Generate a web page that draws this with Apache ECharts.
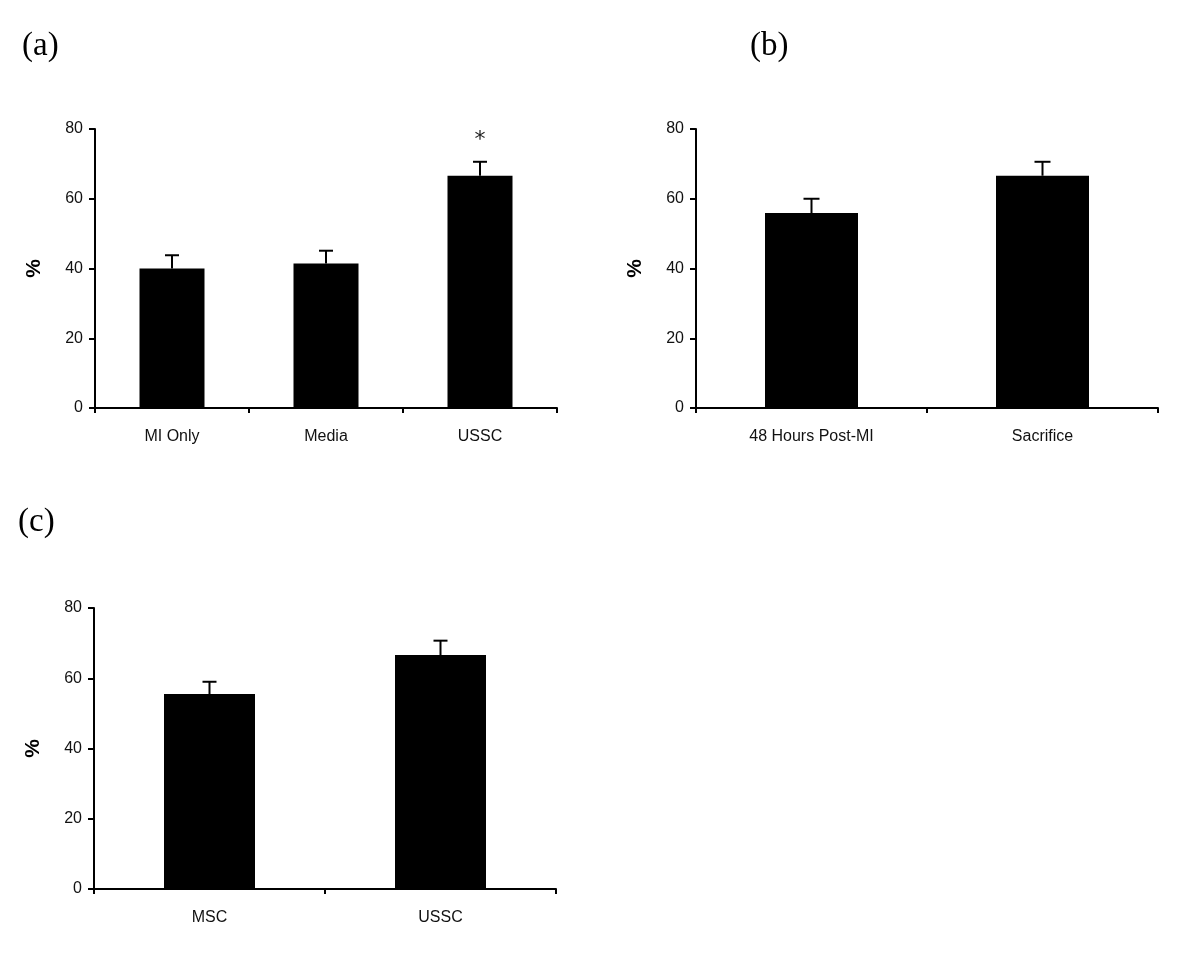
<!DOCTYPE html>
<html>
<head>
<meta charset="utf-8">
<script src="https://cdn.jsdelivr.net/npm/echarts@6/dist/echarts.min.js"></script>
<style>
  html, body { margin: 0; padding: 0; background: #fff; }
  #chart { width: 1200px; height: 963px; }
</style>
</head>
<body>
<div id="chart"></div>
<script>
// ---- data ----
const catsA = ['MI Only', 'Media', 'USSC'];
const meanA = [40.0, 41.4, 66.6];
const errA  = [3.8, 3.7, 4.0];
const sigA  = ['', '', '*'];

const catsB = ['48 Hours Post-MI', 'Sacrifice'];
const meanB = [55.9, 66.6];
const errB  = [4.1, 4.0];
const sigB  = ['', ''];

const catsC = ['MSC', 'USSC'];
const meanC = [55.5, 66.6];
const errC  = [3.5, 4.1];
const sigC  = ['', ''];

const yMin = 0, yMax = 80, yStep = 20;
const yName = '%';
const panelLabels = ['(a)', '(b)', '(c)'];

// ---- build ----
const chart = echarts.init(document.getElementById('chart'), null, { renderer: 'canvas' });

const grids = [
  { left: 95,  top: 129, width: 462, height: 279 },
  { left: 696, top: 129, width: 462, height: 279 },
  { left: 94,  top: 608, width: 462, height: 281 }
];
const panels = [
  { cats: catsA, mean: meanA, err: errA, sig: sigA, barWidth: 65, cap: 7 },
  { cats: catsB, mean: meanB, err: errB, sig: sigB, barWidth: 93, cap: 8 },
  { cats: catsC, mean: meanC, err: errC, sig: sigC, barWidth: 91, cap: 7 }
];

const axisLine = { show: true, lineStyle: { color: '#000', width: 2 } };
const labelFont = { color: '#111', fontSize: 16, fontFamily: 'Liberation Sans, Arial, sans-serif' };

const xAxis = [], yAxis = [], series = [];
panels.forEach((p, i) => {
  xAxis.push({
    type: 'category', gridIndex: i, data: p.cats,
    axisLine: axisLine,
    axisTick: { show: true, length: 5, lineStyle: { color: '#000', width: 2 } },
    axisLabel: Object.assign({ margin: 21 }, labelFont),
    splitLine: { show: false }
  });
  yAxis.push({
    type: 'value', gridIndex: i, min: yMin, max: yMax, interval: yStep,
    name: yName, nameLocation: 'middle', nameGap: 50, nameRotate: 90,
    nameTextStyle: { fontSize: 21, fontWeight: 'bold', color: '#000', fontFamily: 'Liberation Sans, Arial, sans-serif' },
    axisLine: axisLine,
    axisTick: { show: true, length: 6, lineStyle: { color: '#000', width: 2 } },
    axisLabel: Object.assign({ margin: 12 }, labelFont),
    splitLine: { show: false }
  });
  series.push({
    type: 'bar', xAxisIndex: i, yAxisIndex: i,
    data: p.mean, barWidth: p.barWidth,
    itemStyle: { color: '#000' }, silent: true, animation: false
  });
  series.push({
    type: 'custom', xAxisIndex: i, yAxisIndex: i, animation: false, silent: true, z: 3,
    data: p.mean.map((m, k) => [k, m, p.err[k]]),
    renderItem: function (params, api) {
      const k = api.value(0), m = api.value(1), e = api.value(2);
      const p0 = api.coord([k, m]);
      const p1 = api.coord([k, m + e]);
      const hw = p.cap;
      const style = { stroke: '#000', lineWidth: 2 };
      const children = [
        { type: 'line', shape: { x1: p0[0], y1: p0[1], x2: p1[0], y2: p1[1] }, style: style },
        { type: 'line', shape: { x1: p1[0] - hw, y1: p1[1], x2: p1[0] + hw, y2: p1[1] }, style: style }
      ];
      const s = p.sig[params.dataIndex];
      if (s) {
        children.push({
          type: 'text',
          style: { text: s, x: p1[0], y: p1[1] - 22, align: 'center', verticalAlign: 'middle',
                   fontSize: 22, fontFamily: 'DejaVu Sans, sans-serif', fill: '#222' }
        });
      }
      return { type: 'group', children: children };
    }
  });
});

const titleStyle = { fontSize: 33, fontWeight: 'normal', color: '#000', fontFamily: 'Liberation Serif, Times New Roman, serif' };
const option = {
  backgroundColor: '#fff',
  animation: false,
  title: [
    { text: panelLabels[0], left: 22, top: 30, textStyle: titleStyle, padding: 0 },
    { text: panelLabels[1], left: 750, top: 30, textStyle: titleStyle, padding: 0 },
    { text: panelLabels[2], left: 18, top: 506, textStyle: titleStyle, padding: 0 }
  ],
  grid: grids,
  xAxis: xAxis,
  yAxis: yAxis,
  series: series
};
chart.setOption(option);
</script>
</body>
</html>
